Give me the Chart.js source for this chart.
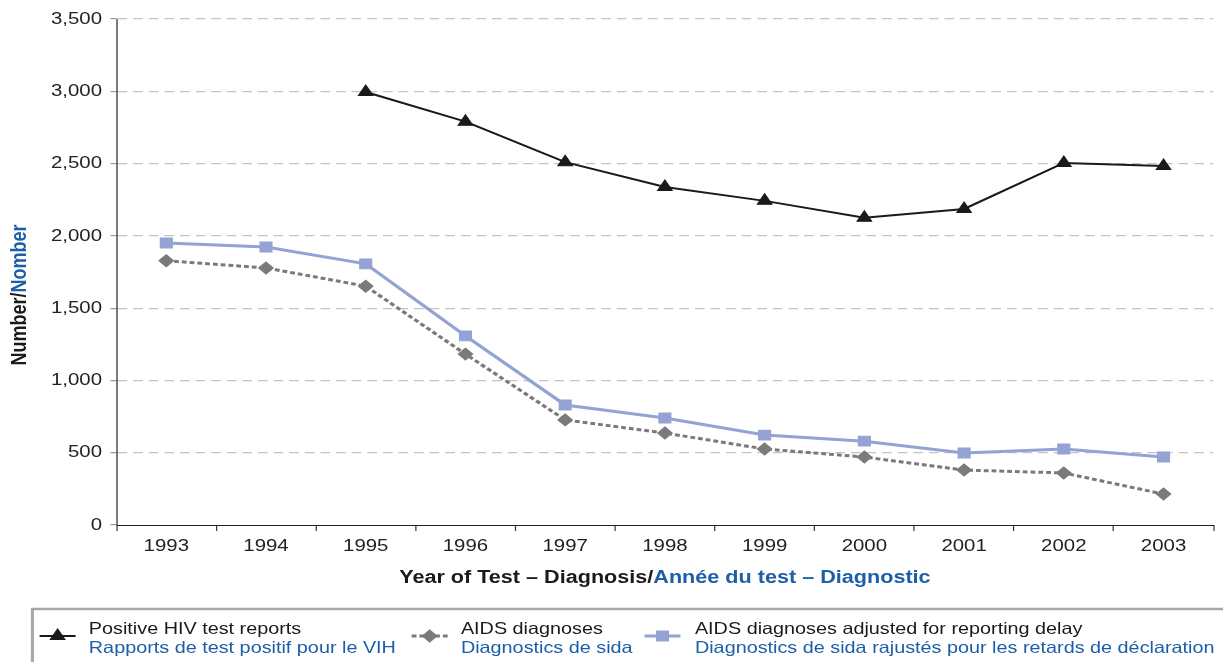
<!DOCTYPE html>
<html><head><meta charset="utf-8">
<script src="https://cdn.jsdelivr.net/npm/chart.js@4.4.1/dist/chart.umd.min.js"></script>
<style>html,body{margin:0;padding:0;background:#fff;overflow:hidden;}#wrap{width:1223px;height:662px;position:relative;}canvas{display:block;}</style>
</head><body><div id="wrap"><canvas id="c" width="1019" height="662"></canvas></div>
<script>
const years = ['1993','1994','1995','1996','1997','1998','1999','2000','2001','2002','2003'];
const hivReports = [null, null, 2995, 2790, 2510, 2338, 2242, 2125, 2186, 2504, 2483];
const aidsDiagnoses = [1828, 1778, 1652, 1182, 727, 636, 526, 470, 380, 360, 214];
const aidsAdjusted = [1951, 1923, 1806, 1308, 830, 740, 622, 580, 498, 526, 470];
const yTicks = [0, 500, 1000, 1500, 2000, 2500, 3000, 3500];
const legendEn = ['Positive HIV test reports', 'AIDS diagnoses', 'AIDS diagnoses adjusted for reporting delay'];
const legendFr = ['Rapports de test positif pour le VIH', 'Diagnostics de sida', 'Diagnostics de sida rajustés pour les retards de déclaration'];
const xTitle = ['Year of Test \u2013 Diagnosis/', 'Ann\u00e9e du test \u2013 Diagnostic'];
const yTitle = ['Number/', 'Nomber'];

const FONT = '"Liberation Sans", Arial, Helvetica, sans-serif';
const BLUE = '#1c5ea8';
const BLACK = '#1a1a1a';
const GRAY = '#7a7a7a';
const LBLUE = '#94a3d3';
const SX = 1223 / 1019;

const titlesPlugin = {
  id: 'titles',
  afterDraw(chart) {
    const ctx = chart.ctx;
    const ca = chart.chartArea;
    ctx.save();
    ctx.textBaseline = 'middle';
    // x title
    ctx.font = 'bold 18px ' + FONT;
    const w1 = ctx.measureText(xTitle[0]).width, w2 = ctx.measureText(xTitle[1]).width;
    const x0 = (ca.left + ca.right) / 2 - (w1 + w2) / 2;
    ctx.textAlign = 'left';
    ctx.fillStyle = BLACK; ctx.fillText(xTitle[0], x0, 578);
    ctx.fillStyle = BLUE; ctx.fillText(xTitle[1], x0 + w1, 578);
    // y title
    ctx.save();
    ctx.translate(17, 295);
    ctx.rotate(-Math.PI / 2);
    ctx.font = 'bold 18px ' + FONT;
    const a = ctx.measureText(yTitle[0]).width, b = ctx.measureText(yTitle[1]).width;
    ctx.fillStyle = BLACK; ctx.fillText(yTitle[0], -(a + b) / 2, 0);
    ctx.fillStyle = BLUE; ctx.fillText(yTitle[1], -(a + b) / 2 + a, 0);
    ctx.restore();
    // legend box
    ctx.strokeStyle = '#a8a8a8';
    ctx.lineWidth = 2.6;
    ctx.beginPath();
    ctx.moveTo(27, 663); ctx.lineTo(27, 609); ctx.lineTo(1020, 609);
    ctx.stroke();
    const items = [
      {mx: 33, tx: 74},
      {mx: 343, tx: 384},
      {mx: 537, tx: 579}
    ];
    items.forEach((it, i) => {
      const ds = chart.data.datasets[i];
      const my = 636;
      ctx.save();
      ctx.strokeStyle = ds.borderColor;
      ctx.lineWidth = ds.borderWidth;
      ctx.setLineDash(ds.borderDash || []);
      ctx.beginPath(); ctx.moveTo(it.mx, my); ctx.lineTo(it.mx + 30, my); ctx.stroke();
      ctx.restore();
      ctx.save();
      ctx.fillStyle = ds.pointBackgroundColor;
      ctx.strokeStyle = ds.pointBorderColor;
      ctx.lineWidth = 1;
      Chart.helpers.drawPoint(ctx, {pointStyle: ds.pointStyle, radius: ds.pointRadius, rotation: 0, borderWidth: 1}, it.mx + 15, my);
      ctx.restore();
      ctx.font = '16.5px ' + FONT;
      ctx.textAlign = 'left';
      ctx.fillStyle = BLACK;
      ctx.fillText(legendEn[i], it.tx, 629);
      ctx.fillStyle = BLUE;
      ctx.fillText(legendFr[i], it.tx, 648);
    });
    ctx.restore();
  }
};

const canvas = document.getElementById('c');
const chart = new Chart(canvas, {
  type: 'line',
  data: {
    labels: years,
    datasets: [
      {label: legendEn[0], data: hivReports, borderColor: BLACK, backgroundColor: BLACK, pointBackgroundColor: BLACK, pointBorderColor: BLACK,
       borderWidth: 2, pointBorderWidth: 1, pointStyle: 'triangle', pointRadius: 7, tension: 0, spanGaps: false},
      {label: legendEn[1], data: aidsDiagnoses, borderColor: GRAY, backgroundColor: GRAY, pointBackgroundColor: GRAY, pointBorderColor: GRAY,
       borderWidth: 3, borderDash: [4, 2.5], pointBorderWidth: 1, pointStyle: 'rectRot', pointRadius: 6, tension: 0},
      {label: legendEn[2], data: aidsAdjusted, borderColor: LBLUE, backgroundColor: LBLUE, pointBackgroundColor: LBLUE, pointBorderColor: LBLUE,
       borderWidth: 3, pointBorderWidth: 1, pointStyle: 'rect', pointRadius: 7, tension: 0}
    ]
  },
  options: {
    responsive: false,
    animation: false,
    devicePixelRatio: 1,
    layout: {padding: {top: 19, right: 2, left: 0, bottom: 0}},
    plugins: {legend: {display: false}, tooltip: {enabled: false}},
    scales: {
      x: {
        type: 'category', offset: true,
        grid: {offset: true, drawOnChartArea: false, drawTicks: true, tickLength: 6, color: '#333', lineWidth: 1},
        border: {display: true, color: '#222', width: 1},
        ticks: {color: '#222', font: {family: FONT, size: 17}, padding: 5, maxRotation: 0},
        afterFit(s) { s.height = 137; }
      },
      y: {
        min: 0, max: 3500,
        afterBuildTicks(s) { s.ticks = yTicks.map(v => ({value: v})); },
        grid: {color: c => (c.tick && c.tick.value === 0) ? 'rgba(0,0,0,0)' : '#c4c4c4', lineWidth: 1.2,
               drawTicks: true, tickLength: 5, tickColor: '#999', tickWidth: 1.2},
        border: {display: true, color: '#222', width: 1, dash: [8, 5]},
        ticks: {color: '#222', font: {family: FONT, size: 17}, padding: 7,
          callback: v => v.toLocaleString('en-US')},
        afterFit(s) { s.width = 97; }
      }
    }
  },
  plugins: [titlesPlugin]
});
// the reference is horizontally stretched; reproduce it with a horizontal scale of the drawing context
canvas.width = 1223;
canvas.height = 662;
canvas.style.width = '1223px';
canvas.style.height = '662px';
chart.ctx.setTransform(SX, 0, 0, 1, 0, 0);
chart.draw();
</script></body></html>
